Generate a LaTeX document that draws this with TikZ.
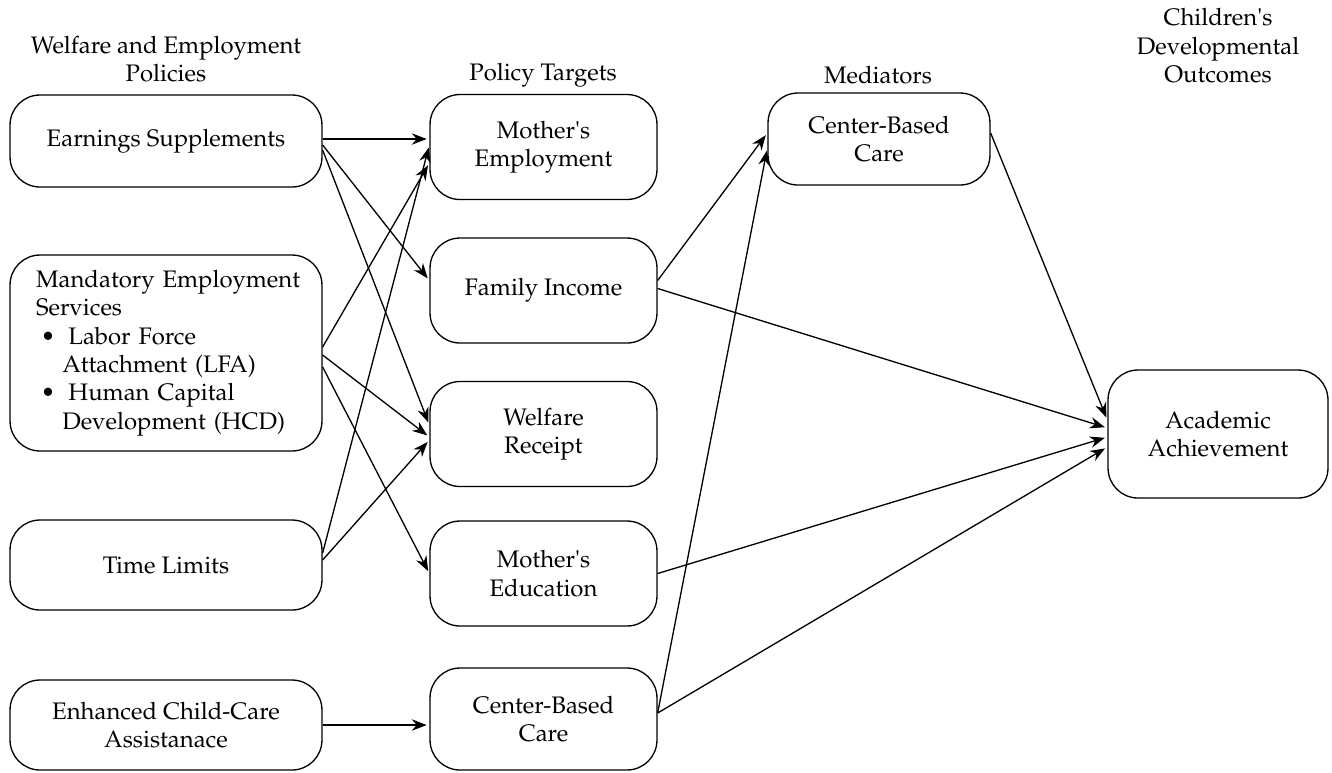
\documentclass[tikz,border=0pt]{standalone}
\usepackage[T1]{fontenc}
\usepackage{mathpazo}
\usepackage{textcomp}
\usepackage{tikz}
\usetikzlibrary{calc}
\usetikzlibrary{arrows.meta}
\tikzset{
  box/.style={draw, rounded corners=0.6cm, inner sep=0pt, align=center, line width=0.75pt},
  policy/.style={box, minimum width=6.24cm, minimum height=1.84cm},
  target/.style={box, minimum width=4.54cm, minimum height=2.1cm},
  head/.style={align=center},
  link/.style={-{Stealth[length=8.5pt,width=6.5pt]}, line width=0.75pt, shorten >=1.5pt}
}

\begin{document}
\begin{tikzpicture}[x=0.02cm, y=-0.02cm, font=\fontsize{13.6}{16.2}\selectfont]
  \useasboundingbox (0,0) rectangle (1332,772);
  \node[head] (hpol) at (166,59) {Welfare and Employment\\Policies};
  \node[head] (htar) at (543,75) {Policy Targets};
  \node[head] (hmed) at (878,75) {Mediators};
  \node[head] (hout) at (1218,46) {Children\textquotesingle s\\Developmental\\Outcomes};
  \node[policy] (earn) at (166,141) {Earnings Supplements};
  \node[policy, minimum height=3.92cm, text width=5.5cm, inner xsep=0.37cm, align=left] (mand) at (166,353)
    {\hspace*{0.15cm}Mandatory Employment\\
     \hspace*{0.15cm}Services\\
     \hspace*{0.15cm}\hspace*{0.2em}\textbullet\hspace{0.55em}Labor Force\\
     \hspace*{0.15cm}\hspace*{1.1em}Attachment (LFA)\\
     \hspace*{0.15cm}\hspace*{0.2em}\textbullet\hspace{0.55em}Human Capital\\
     \hspace*{0.15cm}\hspace*{1.1em}Development (HCD)\par\vspace{13pt}};
  \node[policy, minimum height=1.8cm] (tlim) at (166,565) {Time Limits};
  \node[policy, minimum height=1.8cm] (ecc) at (166,725) {Enhanced Child-Care\\Assistanace};
  \node[target] (memp) at (543.5,147) {Mother\textquotesingle s\\Employment};
  \node[target] (finc) at (543.5,290.5) {Family Income};
  \node[target] (wrec) at (543.5,434) {Welfare\\Receipt};
  \node[target] (medu) at (543.5,573.5) {Mother\textquotesingle s\\Education};
  \node[target, minimum height=2.04cm] (cbc) at (543.5,719) {Center-Based\\Care};
  \node[box, minimum width=4.44cm, minimum height=1.84cm] (cbm) at (879,139) {Center-Based\\Care};
  \node[box, minimum width=4.4cm, minimum height=2.56cm] (acad) at (1218,434) {Academic\\Achievement};
  \draw[link] ($(earn.east)+(0,-2)$) -- ($(memp.west)+(0,-8)$);
  \draw[link] ($(earn.east)+(0,4)$) -- ($(finc.west)+(0,-10)$);
  \draw[link] ($(earn.east)+(0,9)$) -- ($(wrec.west)+(0,-9)$);
  \draw[link] ($(mand.east)+(0,-6)$) -- ($(memp.west)+(0,16)$);
  \draw[link] ($(mand.east)+(0,2)$) -- ($(wrec.west)+(0,3)$);
  \draw[link] ($(mand.east)+(0,14)$) -- (medu.west);
  \draw[link] ($(tlim.east)+(0,-12)$) -- ($(memp.west)+(0,-2)$);
  \draw[link] ($(tlim.east)+(0,-5)$) -- ($(wrec.west)+(0,6)$);
  \draw[link] (ecc.east) -- (ecc.east -| cbc.west);
  \draw[link] ($(finc.east)+(0,-10)$) -- ($(cbm.west)+(0,-6)$);
  \draw[link] ($(cbc.east)+(0,-6)$) -- ($(cbm.west)+(0,9)$);
  \draw[link] ($(cbm.east)+(0,-6)$) -- ($(acad.west)+(0,-14)$);
  \draw[link] ($(finc.east)+(0,-2)$) -- ($(acad.west)+(0,-6)$);
  \draw[link] (medu.east) -- ($(acad.west)+(0,3)$);
  \draw[link] ($(cbc.east)+(0,-6)$) -- ($(acad.west)+(0,13)$);
\end{tikzpicture}
\end{document}
